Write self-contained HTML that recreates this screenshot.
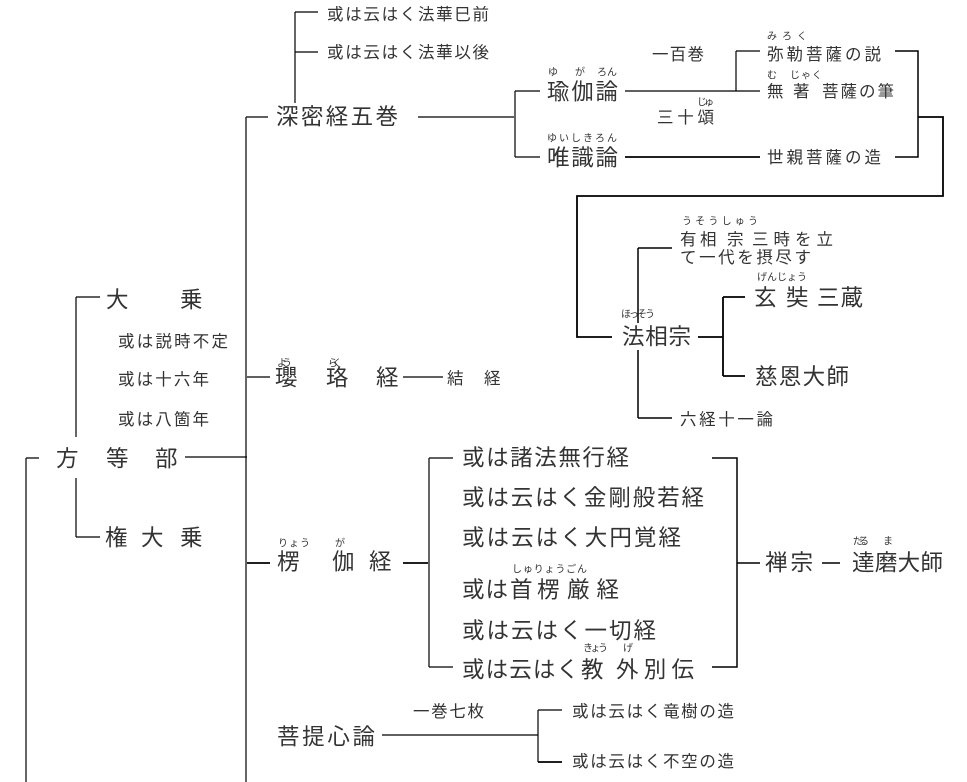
<!DOCTYPE html>
<html><head><meta charset="utf-8">
<style>
html,body{margin:0;padding:0;background:#fff;}
svg{display:block;}
text{font-family:"Liberation Sans","Noto Sans CJK JP",sans-serif;fill:#333;dominant-baseline:central;}
.s{font-size:16.5px;}
.l{font-size:22.5px;}
.r{font-size:10px;}
</style></head><body>
<svg width="967" height="782" viewBox="0 0 967 782" xmlns="http://www.w3.org/2000/svg">
<g stroke="#000" stroke-width="1.2" fill="none">
<path d="M295 12V103M295 12H318M295 52H318"/>
<path d="M246 117V782M246 117H268"/>
<path d="M418 117H514M515 91V157M515 91H540M515 157H540"/>
<path d="M625 91H760M736 51V91M736 51H760"/>
<path d="M625 157H760" stroke-width="1.8"/>
<path d="M895 51H918V157H895" stroke-width="1.5"/>
<path d="M918 117H943V196H577V337H612" stroke-width="1.8"/>
<path d="M698 337H723M723 297V376M723 297H745M723 376H745" stroke-width="1.8"/>
<path d="M638 248V323M638 350V418M638 248H672M638 418H672" stroke-width="1.5"/>
<path d="M76 297V437M76 478V537M76 297H100M76 537H100"/>
<path d="M185 457H247"/>
<path d="M26 458V782M26 458H39"/>
<path d="M247 377H270M403 377H443"/>
<path d="M247 563H270M403 563H428" stroke-width="1.8"/>
<path d="M429 458V667M429 458H453M429 667H453"/>
<path d="M712 458H737V667H712M737 563H760M822 563H840" stroke-width="1.5"/>
<path d="M382 735H538M538 710V762M538 710H562"/>
<path d="M538 762H562" stroke-width="1.8"/>
</g>

<text class="s" x="327" y="15" textLength="162" lengthAdjust="spacing">或は云はく法華巳前</text>
<text class="s" x="327" y="53" textLength="162" lengthAdjust="spacing">或は云はく法華以後</text>
<text class="l" x="276" y="117" textLength="122" lengthAdjust="spacing">深密経五巻</text>

<text class="r" x="548" y="73">ゆ</text><text class="r" x="575" y="73">が</text><text class="r" x="597" y="73" textLength="20" lengthAdjust="spacing">ろん</text>
<text class="l" x="547" y="92" textLength="71" lengthAdjust="spacing">瑜伽論</text>
<text class="s" x="652" y="55" textLength="52" lengthAdjust="spacing">一百巻</text>
<text class="r" x="767" y="37" textLength="40" lengthAdjust="spacing">みろく</text>
<text class="s" x="767" y="55" textLength="114" lengthAdjust="spacing">弥勒菩薩の説</text>
<text class="r" x="767" y="76">む</text><text class="r" x="790" y="76" textLength="32" lengthAdjust="spacing">じゃく</text>
<text class="s" x="767" y="92">無</text><text class="s" x="793" y="92">著</text>
<text class="s" x="822" y="92" textLength="72" lengthAdjust="spacing">菩薩の筆</text>
<text class="r" x="697" y="103" textLength="17" lengthAdjust="spacing">じゅ</text>
<text class="s" x="657" y="118" textLength="57" lengthAdjust="spacing">三十頌</text>
<text class="r" x="547" y="139" textLength="70" lengthAdjust="spacing">ゆいしきろん</text>
<text class="l" x="547" y="158" textLength="71" lengthAdjust="spacing">唯識論</text>
<text class="s" x="767" y="158" textLength="114" lengthAdjust="spacing">世親菩薩の造</text>

<text class="r" x="682" y="222" textLength="76" lengthAdjust="spacing">うそうしゅう</text>
<text class="s" x="680" y="240">有</text><text class="s" x="700" y="240">相</text><text class="s" x="727" y="240">宗</text>
<text class="s" x="752" y="240" textLength="81" lengthAdjust="spacing">三時を立</text>
<text class="s" x="680" y="258" textLength="131" lengthAdjust="spacing">て一代を摂尽す</text>
<text class="r" x="621" y="315" textLength="34" lengthAdjust="spacing">ほっそう</text>
<text class="l" x="622" y="337" textLength="69" lengthAdjust="spacing">法相宗</text>
<text class="r" x="757" y="278" textLength="50" lengthAdjust="spacing">げんじょう</text>
<text class="l" x="754" y="298">玄</text><text class="l" x="786" y="298">奘</text>
<text class="l" x="817" y="298" textLength="46" lengthAdjust="spacing">三蔵</text>
<text class="l" x="755" y="377" textLength="94" lengthAdjust="spacing">慈恩大師</text>
<text class="s" x="680" y="420" textLength="93" lengthAdjust="spacing">六経十一論</text>

<text class="l" x="106" y="300">大</text><text class="l" x="180" y="300">乗</text>
<text class="s" x="118" y="342" textLength="110" lengthAdjust="spacing">或は説時不定</text>
<text class="s" x="118" y="380" textLength="91" lengthAdjust="spacing">或は十六年</text>
<text class="s" x="118" y="420" textLength="91" lengthAdjust="spacing">或は八箇年</text>
<text class="l" x="56" y="459">方</text><text class="l" x="106" y="459">等</text><text class="l" x="155" y="459">部</text>
<text class="l" x="105" y="538">権</text><text class="l" x="141" y="538">大</text><text class="l" x="180" y="538">乗</text>

<text class="r" x="277" y="364" textLength="15" lengthAdjust="spacing">よう</text>
<text class="r" x="328" y="364" textLength="14" lengthAdjust="spacing">らく</text>
<text class="l" x="275" y="378">瓔</text><text class="l" x="326" y="378">珞</text><text class="l" x="376" y="378">経</text>
<text class="s" x="447" y="379">結</text><text class="s" x="484" y="379">経</text>

<text class="r" x="278" y="544" textLength="32" lengthAdjust="spacing">りょう</text>
<text class="r" x="335" y="544">が</text>
<text class="l" x="277" y="562">楞</text><text class="l" x="332" y="562">伽</text><text class="l" x="369" y="562">経</text>
<text class="l" x="462" y="458" textLength="167" lengthAdjust="spacing">或は諸法無行経</text>
<text class="l" x="462" y="498" textLength="242" lengthAdjust="spacing">或は云はく金剛般若経</text>
<text class="l" x="462" y="538" textLength="219" lengthAdjust="spacing">或は云はく大円覚経</text>
<text class="r" x="512" y="570" textLength="75" lengthAdjust="spacing">しゅりょうごん</text>
<text class="l" x="462" y="590" textLength="46" lengthAdjust="spacing">或は</text>
<text class="l" x="510" y="590">首</text><text class="l" x="537" y="590">楞</text>
<text class="l" x="567" y="590" textLength="52" lengthAdjust="spacing">厳経</text>
<text class="l" x="462" y="631" textLength="194" lengthAdjust="spacing">或は云はく一切経</text>
<text class="r" x="583" y="649" textLength="25" lengthAdjust="spacing">きょう</text>
<text class="r" x="623" y="649">げ</text>
<text class="l" x="462" y="670" textLength="117" lengthAdjust="spacing">或は云はく</text>
<text class="l" x="581" y="670">教</text>
<text class="l" x="616" y="670" textLength="78" lengthAdjust="spacing">外別伝</text>
<text class="l" x="765" y="563" textLength="48" lengthAdjust="spacing">禅宗</text>
<text class="r" x="853" y="542" textLength="16" lengthAdjust="spacing">だる</text>
<text class="r" x="883" y="542">ま</text>
<text class="l" x="852" y="563" textLength="91" lengthAdjust="spacing">達磨大師</text>

<text class="l" x="277" y="737" textLength="98" lengthAdjust="spacing">菩提心論</text>
<text class="s" x="413" y="712" textLength="71" lengthAdjust="spacing">一巻七枚</text>
<text class="s" x="572" y="712" textLength="162" lengthAdjust="spacing">或は云はく竜樹の造</text>
<text class="s" x="572" y="762" textLength="162" lengthAdjust="spacing">或は云はく不空の造</text>
</svg>
</body></html>
